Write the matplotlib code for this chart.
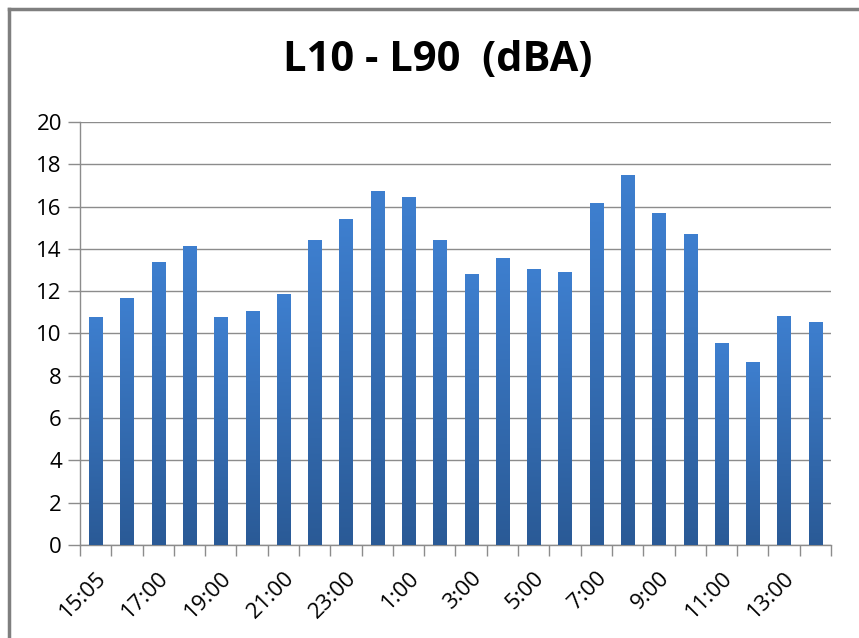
import numpy as np
import matplotlib
matplotlib.use("Agg")
from matplotlib import pyplot as plt
from matplotlib.lines import Line2D
from matplotlib.colors import LinearSegmentedColormap
from matplotlib.transforms import ScaledTranslation

# Data
hours = ["15:05", "16:00", "17:00", "18:00", "19:00", "20:00", "21:00", "22:00",
         "23:00", "0:00", "1:00", "2:00", "3:00", "4:00", "5:00", "6:00",
         "7:00", "8:00", "9:00", "10:00", "11:00", "12:00", "13:00", "14:00"]
values = [10.8, 11.7, 13.4, 14.15, 10.8, 11.05, 11.85, 14.4,
          15.4, 16.75, 16.45, 14.4, 12.8, 13.55, 13.05, 12.9,
          16.15, 17.5, 15.7, 14.7, 9.55, 8.65, 10.85, 10.55]
yticks = [0, 2, 4, 6, 8, 10, 12, 14, 16, 18, 20]

FONT = ["Open Sans", "DejaVu Sans"]
GRID = "#8c8c8c"

fig = plt.figure(figsize=(8.59, 6.38), dpi=100)
ax = fig.add_axes([0.0931, 0.1458, 0.8743, 0.663])

x = np.arange(len(values))
bars = ax.bar(x, values, width=0.42, color="none", zorder=3)

# vertical gradient fill for each bar (light on top, dark at bottom)
cmap = LinearSegmentedColormap.from_list("bar", ["#2a5a96", "#3e7fcf"])
grad = np.linspace(0, 1, 256).reshape(-1, 1)
for b in bars:
    x0, w, h = b.get_x(), b.get_width(), b.get_height()
    im = ax.imshow(grad, cmap=cmap, aspect="auto", origin="lower",
                   extent=[x0, x0 + w, 0, h], zorder=3)
    im.set_clip_path(b)

ax.set_xlim(-0.5, len(values) - 0.5)
ax.set_ylim(0, 20)
ax.set_yticks(yticks)
ax.grid(axis="y", color=GRID, linewidth=1, zorder=0)

# category boundary tick marks, labels on every other category
ax.set_xticks(np.arange(-0.5, len(values), 1.0), minor=True)
ax.set_xticks(x[::2])
ax.set_xticklabels(hours[::2], rotation=45, ha="right", rotation_mode="anchor",
                   fontsize=16, family=FONT)
shift = ScaledTranslation(7 / 100, 0, fig.dpi_scale_trans)
for lab in ax.get_xticklabels():
    lab.set_transform(lab.get_transform() + shift)
ax.tick_params(axis="x", which="major", length=0, pad=16)
ax.tick_params(axis="x", which="minor", length=8, color=GRID, width=1)
ax.tick_params(axis="y", length=9, color=GRID, width=1, labelsize=16, pad=4)
for lab in ax.get_yticklabels():
    lab.set_family(FONT)

for s in ["top", "right"]:
    ax.spines[s].set_visible(False)
for s in ["left", "bottom"]:
    ax.spines[s].set_color(GRID)
    ax.spines[s].set_linewidth(1)

fig.text(0.509, 0.905, "L10 - L90  (dBA)", ha="center", va="center",
         fontsize=30, fontweight="bold", family=FONT)

# outer chart frame (only top and left edges show in the crop)
fig.lines.append(Line2D([0.011, 0.011], [0.0, 0.986], transform=fig.transFigure,
                        color="#7f7f7f", linewidth=2.5))
fig.lines.append(Line2D([0.011, 1.0], [0.986, 0.986], transform=fig.transFigure,
                        color="#7f7f7f", linewidth=2.5))

fig.savefig("out.png", dpi=100)
